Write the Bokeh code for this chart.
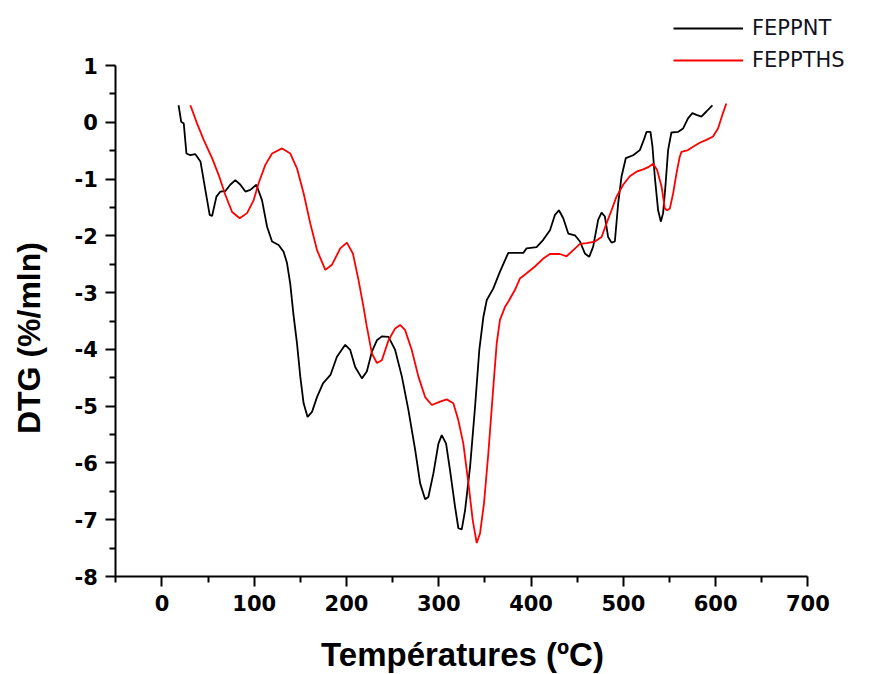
import math
from bokeh.plotting import figure
from bokeh.models import Legend, LegendItem, FixedTicker, Range1d, Label
from bokeh.embed import file_html
from bokeh.resources import INLINE

# FEPPNT (black)
nt_temp = [18, 20.8, 23.6, 26.5, 30.8, 36, 41.7, 47, 51.7, 54.3, 59, 63.3, 68.7, 74, 79.5, 85, 90.4, 95.8,
           102.3, 108.4, 113.9, 119.3, 126.4, 131.8, 135.5, 139, 142.6, 146.3, 149.9, 153.5, 157.8, 162.6,
           168, 174.5, 182.6, 189.6, 198.6, 204, 209.4, 216.7, 222, 227.5, 232.9, 238.3, 245.5, 252.7, 260,
           267.1, 274.4, 279.8, 285.2, 288.7, 294.2, 299.6, 303.2, 307.9, 312.2, 317.6, 321.2, 324.9, 328.5,
           333.9, 339.3, 343.9, 348.3, 352, 359, 366.3, 375.3, 391.6, 395.2, 406, 413.2, 420.5, 425.9, 430.2,
           434.9, 440.3, 447.5, 453, 458.3, 463, 467.3, 472.7, 476.4, 480, 483.5, 487.2, 490.8, 494.4, 498,
           502.7, 510.6, 517.9, 522.2, 525.1, 529.4, 531.6, 534.1, 537.7, 540.6, 543.1, 545.6, 548.5, 552.1,
           559.2, 564.7, 570.1, 574.8, 579.2, 584.6, 590, 596.5]
nt_dtg = [0.30, 0.01, -0.02, -0.55, -0.58, -0.56, -0.69, -1.19, -1.63, -1.65, -1.31, -1.22, -1.21, -1.10,
          -1.02, -1.10, -1.22, -1.19, -1.10, -1.37, -1.84, -2.10, -2.16, -2.28, -2.48, -2.84, -3.40, -3.89,
          -4.48, -4.95, -5.19, -5.10, -4.84, -4.60, -4.45, -4.13, -3.92, -4.01, -4.31, -4.51, -4.39, -4.04,
          -3.84, -3.77, -3.78, -4.01, -4.48, -5.07, -5.77, -6.36, -6.64, -6.60, -6.18, -5.66, -5.51, -5.66,
          -6.13, -6.77, -7.15, -7.17, -6.83, -6.07, -5.01, -4.01, -3.43, -3.13, -2.93, -2.63, -2.30, -2.30,
          -2.22, -2.20, -2.07, -1.90, -1.63, -1.55, -1.69, -1.96, -1.99, -2.10, -2.31, -2.37, -2.19, -1.72,
          -1.59, -1.66, -2.02, -2.12, -2.10, -1.43, -0.96, -0.63, -0.58, -0.49, -0.31, -0.17, -0.17, -0.43,
          -0.96, -1.55, -1.75, -1.60, -1.13, -0.49, -0.18, -0.17, -0.11, 0.07, 0.16, 0.13, 0.10, 0.19, 0.30]

# FEPPTHS (red)
ths_temp = [30.8, 38, 45.2, 54.3, 61.5, 68.7, 76, 84.2, 92.2, 99.4, 104.8, 112, 119.3, 130.1, 139.1, 146.3,
            153.5, 160.7, 168, 177, 184.2, 193.2, 200.4, 206.9, 213, 218.4, 222, 227.5, 232.9, 238.3, 245.5,
            252.7, 258.1, 263.5, 270.7, 277.9, 285.2, 292.4, 301.4, 308.6, 315.8, 321.2, 326.6, 332.1, 336.8,
            341.1, 344.7, 349, 353.7, 359.1, 362.8, 366.3, 371.8, 375.3, 382.6, 388, 395.2, 404.2, 413.2,
            420.5, 431.3, 438.5, 445.7, 453, 460.2, 469.2, 476.4, 481.8, 487.2, 492.6, 499.8, 507, 514.3,
            521.5, 526.9, 532.3, 536.6, 541.4, 545, 547.5, 550.4, 554, 557.6, 561.1, 563, 570.1, 575.6,
            582.8, 590, 597.2, 602.6, 607.3, 611.6]
ths_dtg = [0.30, -0.02, -0.31, -0.63, -0.93, -1.28, -1.58, -1.69, -1.60, -1.37, -1.07, -0.75, -0.55, -0.46,
           -0.55, -0.81, -1.25, -1.78, -2.25, -2.60, -2.51, -2.22, -2.12, -2.31, -2.78, -3.25, -3.60, -4.07,
           -4.24, -4.19, -3.84, -3.63, -3.57, -3.66, -4.01, -4.48, -4.84, -4.98, -4.92, -4.88, -4.95, -5.25,
           -5.66, -6.36, -7.01, -7.41, -7.24, -6.71, -5.83, -4.66, -3.89, -3.48, -3.25, -3.16, -2.95, -2.75,
           -2.66, -2.54, -2.40, -2.32, -2.32, -2.36, -2.25, -2.14, -2.13, -2.10, -2.02, -1.78, -1.55, -1.31,
           -1.10, -0.95, -0.87, -0.83, -0.79, -0.73, -0.84, -1.13, -1.52, -1.55, -1.52, -1.25, -0.90, -0.61,
           -0.52, -0.49, -0.43, -0.36, -0.31, -0.25, -0.11, 0.13, 0.33]

x_major = [0, 100, 200, 300, 400, 500, 600, 700]
x_minor = [-50, 50, 150, 250, 350, 450, 550, 650]
y_major = [-8, -7, -6, -5, -4, -3, -2, -1, 0, 1]
y_minor = [-7.5, -6.5, -5.5, -4.5, -3.5, -2.5, -1.5, -0.5, 0.5]
y_tick_labels = ["-8", "-7", "-6", "-5", "-4", "-3", "-2", "-1", "0", "1"]
x_bounds = (-50, 700)
y_bounds = (-8, 1)

# The frame covers the whole canvas; axes are pinned at the data bounds (fixed_location)
p = figure(frame_width=880, frame_height=674,
           min_border_left=0, min_border_top=0, min_border_right=0, min_border_bottom=0,
           x_range=Range1d(-175.0, 778.7), y_range=Range1d(-9.726, 2.145),
           output_backend="svg", toolbar_location=None)
p.outline_line_color = None
p.grid.visible = False
p.background_fill_color = "white"
p.border_fill_color = "white"

r1 = p.line(nt_temp, nt_dtg, line_color="black", line_width=1.8)
r2 = p.line(ths_temp, ths_dtg, line_color="#ff0000", line_width=1.8)

p.xaxis.ticker = FixedTicker(ticks=x_major, minor_ticks=x_minor)
p.yaxis.ticker = FixedTicker(ticks=y_major, minor_ticks=y_minor)
p.xaxis.bounds = x_bounds
p.yaxis.bounds = y_bounds
p.xaxis.fixed_location = y_bounds[0]
p.yaxis.fixed_location = x_bounds[0]
p.yaxis.major_label_overrides = {t: s for t, s in zip(y_major, y_tick_labels)}

for ax in (p.xaxis[0], p.yaxis[0]):
    ax.axis_line_width = 2
    ax.axis_line_color = "black"
    ax.major_tick_line_width = 2
    ax.minor_tick_line_width = 2
    ax.major_tick_in = 0
    ax.minor_tick_in = 0
    ax.major_tick_out = 10
    ax.minor_tick_out = 6
    ax.major_label_text_font = "DejaVu Sans"
    ax.major_label_text_font_style = "bold"
    ax.major_label_text_font_size = "21px"
    ax.major_label_text_color = "black"
    ax.major_label_standoff = 8

xlab = Label(x=325.7, y=-9.367, text="Températures (ºC)", text_align="center",
             text_baseline="middle", text_font="Liberation Sans", text_font_size="33px",
             text_font_style="bold", text_color="black")
ylab = Label(x=-143.6, y=-3.80, text="DTG (%/mln)", angle=math.pi / 2, text_align="center",
             text_baseline="middle", text_font="Liberation Sans", text_font_size="32px",
             text_font_style="bold", text_color="black")
p.add_layout(xlab)
p.add_layout(ylab)

legend = Legend(items=[LegendItem(label="FEPPNT", renderers=[r1]),
                       LegendItem(label="FEPPTHS", renderers=[r2])],
                location=(673, 601), orientation="vertical",
                glyph_width=70, glyph_height=26, label_height=26, spacing=6,
                label_standoff=9, padding=0, margin=0,
                border_line_alpha=0, background_fill_alpha=0,
                label_text_font="DejaVu Sans", label_text_font_size="21px",
                label_text_color="#111122")
p.add_layout(legend)

open("out.html", "w").write(file_html(p, INLINE))
